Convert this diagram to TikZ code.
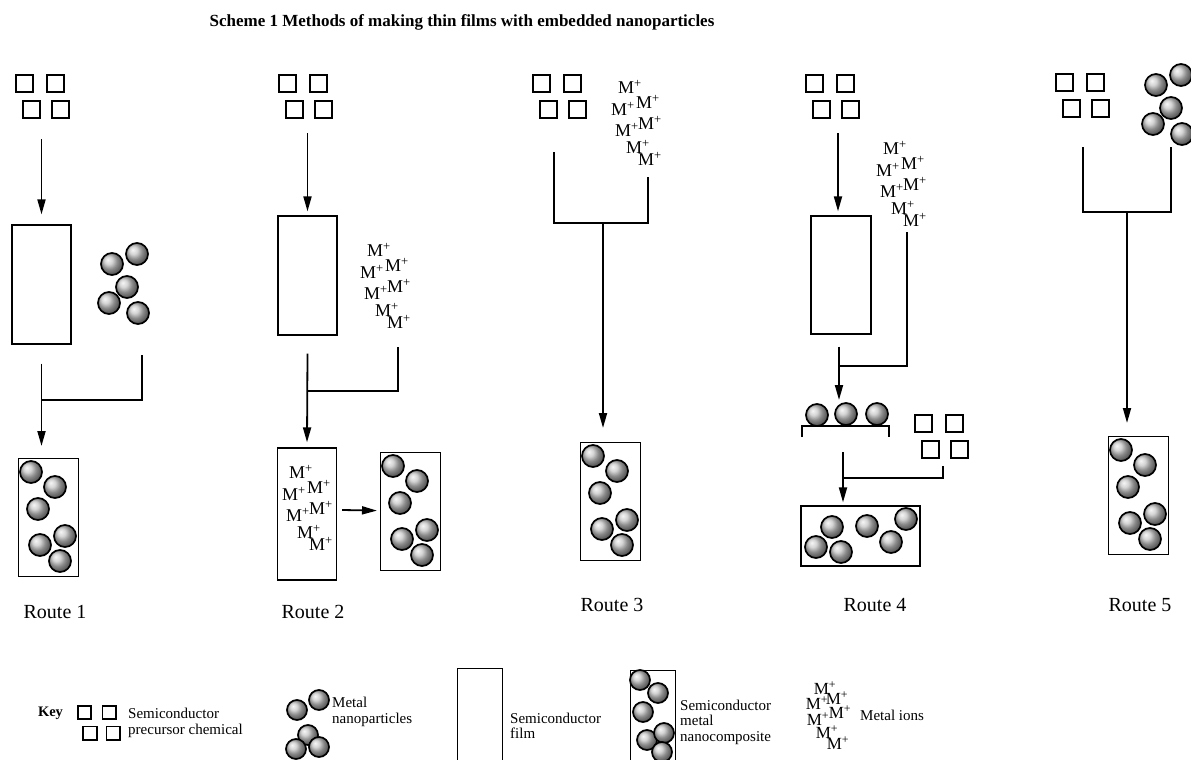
\documentclass[tikz,border=0pt]{standalone}
\usepackage{fontspec}
\setmainfont{Liberation Serif}
\usepackage{tikz}
\usetikzlibrary{positioning,arrows.meta,calc,fit}

\tikzset{
  sq/.style={draw, line width=1.7pt, minimum size=17pt, inner sep=0pt},
  ball/.style={circle, draw, line width=1.7pt, minimum size=22pt, inner sep=0pt, ball color=gray!45},
  keyball/.style={ball, minimum size=20pt},
  film/.style={draw, line width=1.2pt, minimum width=59pt, inner sep=0pt},
  ion/.style={inner sep=0pt, font=\fontsize{18}{18}\selectfont},
  arr/.style={line width=1.8pt, -{Triangle[length=15pt,width=8pt]}},
  link/.style={line width=1.8pt},
  keytext/.style={align=left, anchor=west, inner sep=0pt, font=\fontsize{15}{15.5}\selectfont},
  route/.style={font=\fontsize{20}{20}\selectfont},
}

% four precursor squares, optional scale
\newcommand{\precursor}[4][1]{%
  \begin{scope}[shift={(#3,#4)}, scale=#1, transform shape]
    \node[sq] (#2-1) at (0,0) {};
    \node[sq] (#2-2) at (31,0) {};
    \node[sq] (#2-3) at (7,26) {};
    \node[sq] (#2-4) at (36,26) {};
  \end{scope}}

% five metal nanoparticles
\newcommand{\nanocluster}[3]{%
  \begin{scope}[shift={(#2,#3)}]
    \foreach \dx/\dy [count=\i] in {25/-10,0/0,15/23,-3/39,26/49}
      \node[ball] (#1-\i) at (\dx,\dy) {};
  \end{scope}}

% seven metal ions
\newcommand{\ioncluster}[3]{%
  \begin{scope}[shift={(#2,#3)}]
    \foreach \dx/\dy [count=\i] in {0/0,-7/22,18/15,-3/43,20/36,8/60,20/72}
      \node[ion] (#1-\i) at (\dx,\dy) {M\textsuperscript{+}};
  \end{scope}}

% nanocomposite film, top left corner given
\newcommand{\composite}[3]{%
  \node[film, minimum width=60pt, minimum height=118pt, anchor=north west] (#1) at (#2,#3) {};
  \begin{scope}[shift={(#2,#3)}]
    \foreach \dx/\dy [count=\i] in {13/14,37/29,20/51,47/78,22/87,42/103}
      \node[ball] (#1-\i) at (\dx,\dy) {};
  \end{scope}}

\begin{document}
\begin{tikzpicture}[x=1pt, y=-1pt]
\useasboundingbox (0,0) rectangle (1191,760);

\node[font=\bfseries\fontsize{17}{17}\selectfont] (title) at (462,22)
  {Scheme 1 Methods of making thin films with embedded nanoparticles};

% Route 1
\precursor{r1pre}{24.5}{83.5}
\node[film, minimum height=119pt] (r1film) at (41.5,284.5) {};
\nanocluster{r1np}{112}{264}
\composite{r1out}{18}{458}
\coordinate (r1in) at (41.5,139);
\coordinate (r1j) at (41.5,400);
\coordinate (r1r) at (142,355);
\draw[arr] (r1in) -- ($(r1film.north)+(0,-10)$);
\draw[arr] ($(r1film.south)+(0,19)$) -- ($(r1out.north west)+(23.5,-12)$);
\draw[link] (r1r) |- (r1j);
\node[route] (r1lab) at (55,612) {Route 1};

% Route 2
\precursor{r2pre}{287.5}{83.5}
\node[film, minimum height=119pt] (r2film) at (307.5,275.5) {};
\ioncluster{r2ion}{379}{250}
\node[film, minimum height=132pt] (r2mix) at (307,514) {};
\ioncluster{r2mixion}{301}{472}
\composite{r2out}{380}{452}
\coordinate (r2in) at (307.5,133);
\coordinate (r2j) at (307.5,391);
\coordinate (r2r) at (398,347);
\draw[arr] (r2in) -- ($(r2film.north)+(0,-4)$);
\draw[arr] ($(r2film.south)+(0,18)$) -- ($(r2mix.north)+(0,-5)$);
\draw[link] (r2r) |- (r2j);
\draw[arr] ($(r2mix.east)+(5,-4)$) -- ($(r2out.west)+(-3,-1)$);
\node[route] (r2lab) at (313,612) {Route 2};

% Route 3
\precursor{r3pre}{541.5}{83.5}
\ioncluster{r3ion}{630}{87}
\composite{r3out}{580}{442}
\coordinate (r3l) at (554,152);
\coordinate (r3r) at (648,177);
\coordinate (r3j) at (603,223);
\draw[link] (r3l) |- (r3j) -| (r3r);
\draw[arr] (r3j) -- ($(r3out.north west)+(23,-14)$);
\node[route] (r3lab) at (612,605) {Route 3};

% Route 4
\precursor{r4pre}{814.5}{83.5}
\node[film, minimum width=60pt, minimum height=118pt] (r4film) at (841,275) {};
\ioncluster{r4ion}{895}{148}
\coordinate (r4in) at (838,133);
\coordinate (r4j) at (839,366);
\coordinate (r4r) at (907,232);
\draw[arr] (r4in) -- ($(r4in |- r4film.north)+(0,-4)$);
\draw[arr] ($(r4film.south -| r4j)+(0,12)$) -- ($(r4j)+(0,34)$);
\draw[link] (r4r) |- (r4j);
\node[ball] (r4b1) at (817,415) {};
\node[ball] (r4b2) at (846,414) {};
\node[ball] (r4b3) at (877,414) {};
\draw[line width=1.3pt] (802,437) |- (889,426) -- (889,437);
\precursor{r4sq}{923.5}{423.5}
\node[film, minimum width=119pt, minimum height=60pt] (r4out) at (860.5,536) {};
\foreach \px/\py [count=\i] in {832/527,867/526,906/519,816/547,841/552,891/542}
  \node[ball] (r4out-\i) at (\px,\py) {};
\coordinate (r4k) at (843,452);
\coordinate (r4m) at (843,478);
\coordinate (r4s) at (943,466);
\draw[arr] (r4k) -- ($(r4k |- r4out.north)+(0,-3)$);
\draw[link] (r4s) |- (r4m);
\node[route] (r4lab) at (875,605) {Route 4};

% Route 5
\precursor{r5pre}{1064.5}{82.5}
\nanocluster{r5np}{1156}{85}
\composite{r5out}{1108}{436}
\coordinate (r5l) at (1083,147);
\coordinate (r5r) at (1171,147);
\coordinate (r5j) at (1127,212);
\draw[link] (r5l) |- (r5j) -| (r5r);
\draw[arr] (r5j) -- ($(r5out.north west)+(19,-13)$);
\node[route] (r5lab) at (1140,605) {Route 5};

% Key
\node[font=\bfseries\fontsize{14.5}{14.5}\selectfont] (key) at (50.5,713) {Key};
\precursor[0.8]{kpre}{84.5}{712.5}
\node[keytext] (kpretxt) at (128,723) {Semiconductor\\precursor chemical};
\foreach \px/\py [count=\i] in {319/700,297/710,308/735,296/749,319/747}
  \node[keyball] (knp-\i) at (\px,\py) {};
\node[keytext] (knptxt) at (332,712) {Metal\\nanoparticles};
\node[film, minimum width=45pt, minimum height=110pt, anchor=north west] (kfilm) at (457,668) {};
\node[keytext] (kfilmtxt) at (510,726) {Semiconductor\\film};
\node[film, minimum width=45pt, minimum height=110pt, anchor=north west] (kcomp) at (630,670) {};
\foreach \px/\py [count=\i] in {640/680,658/693,643/712,647/740,664/733,662/752}
  \node[keyball] (kcomp-\i) at (\px,\py) {};
\node[keytext] (kcomptxt) at (680,722) {Semiconductor\\metal\\nanocomposite};
\foreach \px/\py [count=\i] in {825/688,817/703,837/698,818/719,840/712,827/732,838/743}
  \node[ion, font=\fontsize{17}{17}\selectfont] (kion-\i) at (\px,\py) {M\textsuperscript{+}};
\node[keytext] (kiontxt) at (860,715) {Metal ions};

\end{tikzpicture}
\end{document}
